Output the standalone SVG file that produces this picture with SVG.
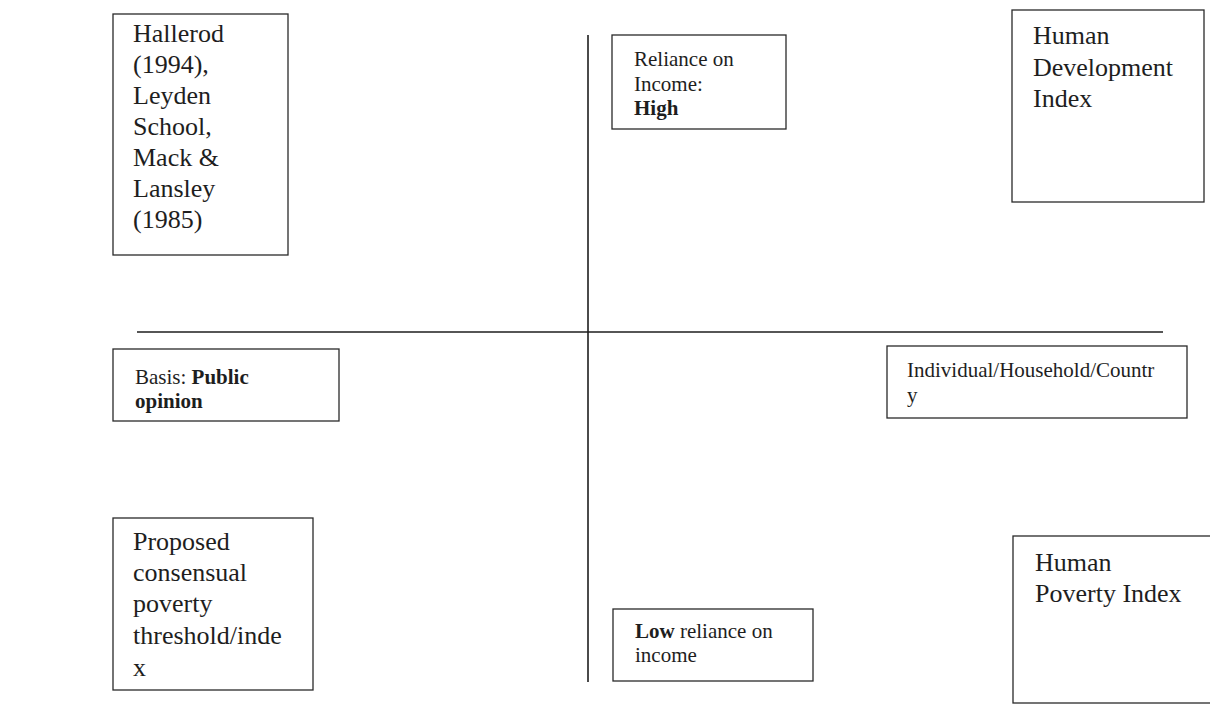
<svg xmlns="http://www.w3.org/2000/svg" width="1210" height="705" viewBox="0 0 1210 705">
<style>
.box{fill:#fff;stroke:#2a2a2a;stroke-width:1.3}
.ax{stroke:#1e1e1e;stroke-width:1.6;fill:none}
.big{font-family:"Liberation Serif","Times New Roman",serif;font-size:26px;fill:#1e1e1e}
.sm{font-family:"Liberation Serif","Times New Roman",serif;font-size:21px;fill:#1e1e1e}
.b{font-weight:bold}
</style>
<rect width="1210" height="705" fill="#fff"/>
<g id="connectors">
<line class="ax" x1="588" y1="35" x2="588" y2="682"/>
<line class="ax" x1="137" y1="332" x2="1163" y2="332"/>
</g>
<g id="hallerod">
<rect class="box" x="113" y="14" width="175" height="241"/>
<text class="big" x="133">
<tspan x="133" y="42">Hallerod</tspan>
<tspan x="133" y="73">(1994),</tspan>
<tspan x="133" y="104">Leyden</tspan>
<tspan x="133" y="135">School,</tspan>
<tspan x="133" y="166">Mack &amp;</tspan>
<tspan x="133" y="197">Lansley</tspan>
<tspan x="133" y="228">(1985)</tspan>
</text>
</g>
<g id="reliance-high">
<rect class="box" x="612" y="35" width="174" height="94"/>
<text class="sm">
<tspan x="634" y="66">Reliance on</tspan>
<tspan x="634" y="91">Income:</tspan>
<tspan x="634" y="115" class="b">High</tspan>
</text>
</g>
<g id="hdi">
<rect class="box" x="1012" y="10" width="192" height="192"/>
<text class="big">
<tspan x="1033" y="44">Human</tspan>
<tspan x="1033" y="76">Development</tspan>
<tspan x="1033" y="107">Index</tspan>
</text>
</g>
<g id="basis">
<rect class="box" x="113" y="349" width="226" height="72"/>
<text class="sm">
<tspan x="135" y="384">Basis: <tspan class="b">Public</tspan></tspan>
<tspan x="135" y="408" class="b">opinion</tspan>
</text>
</g>
<g id="unit">
<rect class="box" x="887" y="346" width="300" height="72"/>
<text class="sm">
<tspan x="907" y="377">Individual/Household/Countr</tspan>
<tspan x="907" y="402">y</tspan>
</text>
</g>
<g id="proposed">
<rect class="box" x="113" y="518" width="200" height="172"/>
<text class="big">
<tspan x="133" y="550">Proposed</tspan>
<tspan x="133" y="581">consensual</tspan>
<tspan x="133" y="612">poverty</tspan>
<tspan x="133" y="644">threshold/inde</tspan>
<tspan x="133" y="676">x</tspan>
</text>
</g>
<g id="reliance-low">
<rect class="box" x="613" y="609" width="200" height="72"/>
<text class="sm">
<tspan x="635" y="638"><tspan class="b">Low</tspan> reliance on</tspan>
<tspan x="635" y="662">income</tspan>
</text>
</g>
<g id="hpi">
<rect class="box" x="1013" y="536" width="220" height="167"/>
<text class="big">
<tspan x="1035" y="571">Human</tspan>
<tspan x="1035" y="602">Poverty Index</tspan>
</text>
</g>
</svg>
